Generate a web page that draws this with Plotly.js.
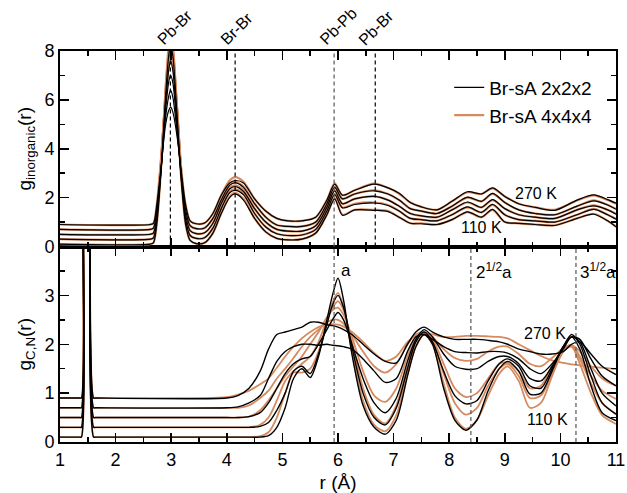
<!DOCTYPE html>
<html><head><meta charset="utf-8">
<script src="https://cdn.plot.ly/plotly-3.0.1.min.js"></script>
<style>html,body{margin:0;padding:0;background:#fff}</style>
</head><body><div id="chart" style="width:627px;height:493px"></div>
<script>
// ---------- DATA ----------
// Top panel: g_inorganic(r), curves offset (110 K lowest ... 270 K highest)
const topR = [1, 2.62, 2.68, 2.74, 2.82, 2.9, 2.96, 2.99, 3.03, 3.1, 3.18, 3.26, 3.34, 3.45, 3.6, 3.75, 3.9, 4.05, 4.15, 4.3, 4.5, 4.7, 4.9, 5.1, 5.35, 5.6, 5.8, 5.94, 6.08, 6.3, 6.65, 6.9, 7.1, 7.3, 7.5, 7.78, 8.05, 8.33, 8.58, 8.78, 9.0, 9.25, 9.55, 9.9, 10.3, 10.6, 10.85, 11];

const topBig_110K = [0.1, 0.1, 0.15, 0.9, 3.3, 6.5, 8.3, 8.6, 8.2, 5.8, 2.8, 0.9, 0.25, 0.12, 0.15, 0.55, 1.35, 2.05, 2.2, 1.95, 1.15, 0.6, 0.33, 0.27, 0.3, 0.55, 1.3, 1.98, 1.3, 1.5, 1.5, 1.45, 1.2, 0.95, 0.95, 0.9, 1.1, 1.41, 1.2, 1.5, 1.0, 0.95, 0.9, 0.87, 1.15, 1.34, 1.05, 0.82];
const topBig_T2 = [0.3, 0.3, 0.35, 1.1, 3.4, 6.4, 8.1, 8.4, 8.0, 5.8, 2.9, 1.1, 0.45, 0.33, 0.36, 0.75, 1.55, 2.25, 2.35, 2.15, 1.35, 0.8, 0.52, 0.45, 0.47, 0.7, 1.45, 2.15, 1.6, 1.75, 1.8, 1.7, 1.45, 1.15, 1.1, 1.05, 1.3, 1.6, 1.4, 1.7, 1.3, 1.1, 1.05, 1.0, 1.3, 1.54, 1.3, 1.13];
const topBig_T3 = [0.5, 0.5, 0.55, 1.3, 3.5, 6.3, 7.9, 8.2, 7.8, 5.8, 3.0, 1.3, 0.65, 0.53, 0.56, 0.95, 1.75, 2.4, 2.5, 2.3, 1.55, 1.0, 0.7, 0.63, 0.63, 0.85, 1.6, 2.3, 1.75, 1.95, 2.05, 1.9, 1.65, 1.35, 1.25, 1.2, 1.5, 1.8, 1.6, 1.9, 1.55, 1.3, 1.2, 1.15, 1.5, 1.68, 1.5, 1.34];
const topBig_T4 = [0.7, 0.7, 0.75, 1.5, 3.6, 6.2, 7.7, 8.0, 7.6, 5.8, 3.1, 1.5, 0.85, 0.73, 0.76, 1.15, 1.9, 2.55, 2.65, 2.45, 1.75, 1.2, 0.88, 0.82, 0.82, 1.0, 1.75, 2.45, 1.95, 2.15, 2.3, 2.15, 1.9, 1.55, 1.45, 1.35, 1.65, 2.0, 1.85, 2.15, 1.8, 1.5, 1.35, 1.3, 1.65, 1.89, 1.7, 1.54];
const topBig_270K = [0.9, 0.9, 0.95, 1.7, 3.7, 6.1, 7.5, 7.8, 7.4, 5.8, 3.2, 1.7, 1.05, 0.93, 0.96, 1.35, 2.1, 2.7, 2.84, 2.65, 1.95, 1.45, 1.15, 1.05, 1.05, 1.2, 1.9, 2.58, 2.1, 2.3, 2.57, 2.4, 2.16, 1.8, 1.62, 1.5, 1.85, 2.22, 2.15, 2.38, 2.05, 1.75, 1.6, 1.5, 1.88, 2.09, 1.9, 1.75];

const topSmall_110K = [0.1, 0.1, 0.15, 0.9, 3.2, 6.2, 7.9, 8.2, 7.8, 5.6, 2.8, 0.9, 0.25, 0.12, 0.15, 0.55, 1.35, 2.0, 2.15, 1.9, 1.15, 0.6, 0.33, 0.27, 0.3, 0.55, 1.3, 1.95, 1.28, 1.5, 1.48, 1.43, 1.2, 0.95, 0.93, 0.9, 1.1, 1.42, 1.2, 1.52, 1.0, 0.95, 0.9, 0.86, 1.15, 1.32, 1.05, 0.8];
const topSmall_T2 = [0.3, 0.3, 0.35, 1.1, 3.2, 5.9, 7.3, 7.6, 7.2, 5.3, 2.8, 1.1, 0.45, 0.33, 0.36, 0.75, 1.55, 2.2, 2.3, 2.12, 1.35, 0.8, 0.52, 0.45, 0.47, 0.7, 1.45, 2.12, 1.58, 1.72, 1.78, 1.68, 1.45, 1.15, 1.1, 1.05, 1.3, 1.62, 1.4, 1.72, 1.3, 1.1, 1.05, 1.0, 1.3, 1.52, 1.3, 1.12];
const topSmall_T3 = [0.5, 0.5, 0.55, 1.3, 3.2, 5.6, 6.8, 7.0, 6.7, 5.0, 2.9, 1.3, 0.65, 0.53, 0.56, 0.95, 1.75, 2.35, 2.45, 2.25, 1.55, 1.0, 0.7, 0.63, 0.63, 0.85, 1.6, 2.28, 1.75, 1.95, 2.05, 1.9, 1.65, 1.35, 1.25, 1.2, 1.5, 1.82, 1.6, 1.92, 1.55, 1.3, 1.2, 1.15, 1.5, 1.66, 1.5, 1.32];
const topSmall_T4 = [0.7, 0.7, 0.75, 1.5, 3.2, 5.3, 6.2, 6.4, 6.1, 4.8, 3.0, 1.5, 0.85, 0.73, 0.76, 1.15, 1.9, 2.5, 2.6, 2.42, 1.75, 1.2, 0.88, 0.82, 0.82, 1.0, 1.75, 2.42, 1.95, 2.15, 2.28, 2.15, 1.9, 1.55, 1.45, 1.35, 1.65, 2.02, 1.85, 2.17, 1.8, 1.5, 1.35, 1.3, 1.65, 1.87, 1.7, 1.52];
const topSmall_270K = [0.9, 0.9, 0.95, 1.7, 3.3, 5.0, 5.6, 5.7, 5.5, 4.6, 3.1, 1.7, 1.05, 0.93, 0.96, 1.35, 2.1, 2.6, 2.7, 2.6, 1.95, 1.45, 1.15, 1.05, 1.05, 1.2, 1.9, 2.55, 2.1, 2.3, 2.55, 2.4, 2.18, 1.8, 1.62, 1.5, 1.85, 2.24, 2.15, 2.4, 2.05, 1.75, 1.6, 1.48, 1.9, 2.11, 1.92, 1.77];

// Bottom panel: g_C,N(r)
const botR = [1, 1.36, 1.385, 1.42, 1.48, 1.54, 1.605, 1.64, 4.0, 4.2, 4.4, 4.6, 4.75, 4.9, 5.05, 5.2, 5.35, 5.5, 5.65, 5.8, 5.9, 6.0, 6.1, 6.25, 6.45, 6.65, 6.85, 7.05, 7.25, 7.4, 7.55, 7.7, 7.9, 8.1, 8.3, 8.5, 8.7, 8.9, 9.05, 9.25, 9.45, 9.65, 9.85, 10.05, 10.2, 10.35, 10.55, 10.75, 11];

const botBig_110K = [0.1, 0.1, 0.1, 5, 12, 6.5, 0.1, 0.1, 0.1, 0.1, 0.1, 0.12, 0.2, 0.5, 1.0, 1.42, 1.42, 1.5, 1.85, 2.45, 2.85, 3.05, 2.75, 1.85, 0.85, 0.35, 0.22, 0.55, 1.4, 1.95, 2.2, 2.0, 1.2, 0.5, 0.27, 0.45, 0.95, 1.4, 1.55, 1.25, 0.7, 0.8, 1.35, 1.85, 1.95, 1.6, 1.0, 0.55, 0.37];
const botBig_T2 = [0.3, 0.3, 0.3, 5, 12, 6.5, 0.3, 0.3, 0.3, 0.3, 0.3, 0.35, 0.5, 0.85, 1.25, 1.45, 1.6, 1.75, 2.05, 2.5, 2.75, 2.88, 2.7, 2.05, 1.1, 0.55, 0.38, 0.75, 1.55, 2.05, 2.25, 2.05, 1.4, 0.8, 0.56, 0.7, 1.15, 1.5, 1.6, 1.35, 0.9, 0.95, 1.4, 1.85, 1.98, 1.7, 1.2, 0.8, 0.57];
const botBig_T3 = [0.5, 0.5, 0.5, 5, 12, 6.5, 0.5, 0.5, 0.5, 0.5, 0.52, 0.65, 0.85, 1.1, 1.35, 1.55, 1.75, 2.0, 2.25, 2.55, 2.7, 2.75, 2.6, 2.15, 1.45, 0.95, 0.82, 1.1, 1.75, 2.1, 2.25, 2.1, 1.6, 1.1, 0.92, 1.0, 1.3, 1.6, 1.62, 1.45, 1.1, 1.15, 1.55, 1.9, 1.98, 1.75, 1.35, 1.05, 0.88];
const botBig_T4 = [0.7, 0.7, 0.7, 5, 12, 6.5, 0.7, 0.7, 0.7, 0.7, 0.75, 0.9, 1.05, 1.3, 1.5, 1.72, 1.95, 2.15, 2.3, 2.45, 2.5, 2.5, 2.42, 2.2, 1.85, 1.55, 1.42, 1.6, 2.0, 2.2, 2.25, 2.15, 1.9, 1.72, 1.66, 1.7, 1.85, 1.95, 1.95, 1.8, 1.6, 1.55, 1.72, 1.92, 1.98, 1.85, 1.55, 1.3, 1.15];
const botBig_270K = [0.9, 0.9, 0.9, 5, 12, 6.5, 0.9, 0.9, 0.92, 0.97, 1.05, 1.18, 1.3, 1.52, 1.75, 1.95, 2.12, 2.25, 2.35, 2.4, 2.41, 2.4, 2.36, 2.25, 2.05, 1.82, 1.66, 1.75, 2.05, 2.18, 2.22, 2.2, 2.15, 2.15, 2.17, 2.17, 2.16, 2.15, 2.12, 2.0, 1.88, 1.76, 1.67, 1.62, 1.59, 1.57, 1.54, 1.52, 1.49];

const botSmall_110K = [0.1, 0.1, 0.1, 5, 12, 6.5, 0.1, 0.1, 0.1, 0.1, 0.1, 0.1, 0.13, 0.3, 0.7, 1.3, 1.5, 1.32, 1.75, 2.5, 3.0, 3.35, 2.9, 1.8, 0.75, 0.3, 0.16, 0.45, 1.35, 1.95, 2.2, 2.0, 1.1, 0.45, 0.24, 0.45, 1.05, 1.5, 1.65, 1.45, 0.98, 1.0, 1.45, 1.95, 2.15, 1.9, 1.15, 0.6, 0.44];
const botSmall_T2 = [0.3, 0.3, 0.3, 5, 12, 6.5, 0.3, 0.3, 0.3, 0.3, 0.3, 0.32, 0.4, 0.65, 1.0, 1.45, 1.55, 1.4, 1.8, 2.4, 2.8, 3.0, 2.75, 1.95, 1.0, 0.5, 0.35, 0.7, 1.5, 2.05, 2.25, 2.05, 1.45, 0.95, 0.78, 0.85, 1.25, 1.6, 1.7, 1.55, 1.15, 1.1, 1.5, 1.95, 2.2, 2.0, 1.35, 0.8, 0.57];
const botSmall_T3 = [0.5, 0.5, 0.5, 5, 12, 6.5, 0.5, 0.5, 0.5, 0.5, 0.52, 0.6, 0.8, 1.1, 1.4, 1.6, 1.7, 1.75, 2.0, 2.3, 2.5, 2.65, 2.5, 2.0, 1.3, 0.8, 0.6, 0.9, 1.65, 2.1, 2.3, 2.15, 1.8, 1.55, 1.49, 1.5, 1.65, 1.75, 1.75, 1.6, 1.3, 1.25, 1.55, 1.95, 2.15, 2.05, 1.5, 1.0, 0.74];
const botSmall_T4 = [0.7, 0.7, 0.7, 5, 12, 6.5, 0.7, 0.7, 0.7, 0.72, 0.8, 0.95, 1.3, 1.65, 1.85, 1.95, 2.0, 2.0, 1.98, 2.0, 1.98, 1.97, 1.95, 1.9, 1.7, 1.45, 1.22, 1.3, 1.85, 2.15, 2.2, 2.1, 1.95, 1.85, 1.83, 1.82, 1.85, 1.85, 1.82, 1.7, 1.5, 1.4, 1.6, 1.9, 2.15, 2.1, 1.7, 1.35, 1.15];
const botSmall_270K = [0.9, 0.9, 0.9, 5, 12, 6.5, 0.9, 0.9, 0.9, 0.95, 1.1, 1.45, 1.9, 2.2, 2.25, 2.3, 2.35, 2.45, 2.45, 2.4, 2.38, 2.35, 2.3, 2.2, 2.0, 1.8, 1.65, 1.62, 2.0, 2.25, 2.35, 2.25, 2.15, 2.1, 2.1, 2.1, 2.08, 2.05, 2.0, 1.9, 1.85, 1.8, 1.8, 1.85, 2.0, 2.05, 1.8, 1.55, 1.38];

// Reference distances (dashed lines) and their labels
const topRefR = [2.985, 4.15, 5.93, 6.67];
const topRefLabels = ['Pb-Br', 'Br-Br', 'Pb-Pb', 'Pb-Br'];
const botRefR = [5.93, 8.39, 10.28];
const botRefLabels = ['a', '2<sup>1/2</sup>a', '3<sup>1/2</sup>a'];
const seriesNames = ['Br-sA 2x2x2', 'Br-sA 4x4x4'];

// ---------- STYLE ----------
const BLACK = '#000000';
const ORANGE = '#d58a60';
const FONT = 'Liberation Sans, Arial, Helvetica, sans-serif';

const topBig = [topBig_110K, topBig_T2, topBig_T3, topBig_T4, topBig_270K];
const topSmall = [topSmall_110K, topSmall_T2, topSmall_T3, topSmall_T4, topSmall_270K];
const botBig = [botBig_110K, botBig_T2, botBig_T3, botBig_T4, botBig_270K];
const botSmall = [botSmall_110K, botSmall_T2, botSmall_T3, botSmall_T4, botSmall_270K];

const traces = [];
function addSet(xs, ys, xa, ya, color, width, name, rank, firstLegend) {
  ys.forEach((y, i) => {
    traces.push({
      x: xs, y: y, xaxis: xa, yaxis: ya, type: 'scatter', mode: 'lines',
      line: { color: color, width: width, shape: 'spline', smoothing: 0.8 },
      name: name, legendgroup: name, legendrank: rank,
      showlegend: firstLegend && i === 0, hoverinfo: 'skip'
    });
  });
}
addSet(topR, topBig, 'x2', 'y2', ORANGE, 2.2, seriesNames[1], 2, true);
addSet(botR, botBig, 'x', 'y', ORANGE, 1.8, seriesNames[1], 2, false);
addSet(topR, topSmall, 'x2', 'y2', BLACK, 1.2, seriesNames[0], 1, true);
addSet(botR, botSmall, 'x', 'y', BLACK, 1.4, seriesNames[0], 1, false);

const tickCommon = {
  ticks: 'inside', ticklen: 9, tickwidth: 1.5, tickcolor: BLACK,
  showline: true, linewidth: 2, linecolor: BLACK, mirror: 'allticks',
  showgrid: false, zeroline: false,
  tickfont: { family: FONT, size: 18, color: BLACK }
};
const minorCommon = { ticks: 'inside', ticklen: 5, tickwidth: 1.5, tickcolor: BLACK, showgrid: false };

const shapes = [];
topRefR.forEach((r, i) => shapes.push({
  type: 'line', xref: 'x2', yref: 'y2 domain', x0: r, x1: r, y0: 0, y1: 1,
  line: { color: i === 2 ? '#555' : BLACK, width: 1.2, dash: '4px,3px' }
}));
botRefR.forEach(r => shapes.push({
  type: 'line', xref: 'x', yref: 'y domain', x0: r, x1: r, y0: 0, y1: 1,
  line: { color: '#555', width: 1.2, dash: '4px,3px' }
}));

const annotations = [];
const topLabelX = [3.06, 4.18, 6.0, 6.69];
topRefLabels.forEach((t, i) => annotations.push({
  text: t, xref: 'x2', yref: 'y2 domain', x: topLabelX[i], y: 1, xanchor: 'center', yanchor: 'bottom',
  yshift: 0, textangle: -45, showarrow: false, font: { family: FONT, size: 16, color: BLACK }
}));
const botLabelX = [6.02, 8.45, 10.32];
botRefLabels.forEach((t, i) => annotations.push({
  text: t, xref: 'x', yref: 'y', x: botLabelX[i], y: 3.5, xanchor: 'left', yanchor: 'middle',
  showarrow: false, font: { family: FONT, size: 17, color: BLACK }
}));
annotations.push(
  { text: '270 K', xref: 'x2', yref: 'y2', x: 9.57, y: 2.18, showarrow: false, font: { family: FONT, size: 16, color: BLACK } },
  { text: '110 K', xref: 'x2', yref: 'y2', x: 8.58, y: 0.76, showarrow: false, font: { family: FONT, size: 16, color: BLACK } },
  { text: '270 K', xref: 'x', yref: 'y', x: 9.72, y: 2.22, showarrow: false, font: { family: FONT, size: 16, color: BLACK } },
  { text: '110 K', xref: 'x', yref: 'y', x: 9.77, y: 0.47, showarrow: false, font: { family: FONT, size: 16, color: BLACK } }
);

const layout = {
  width: 627, height: 493,
  margin: { l: 60, r: 11, t: 51, b: 51 },
  paper_bgcolor: '#fff', plot_bgcolor: '#fff',
  font: { family: FONT, color: BLACK },
  showlegend: true,
  legend: {
    x: 0.70, y: 0.955, xanchor: 'left', yanchor: 'top',
    bgcolor: 'rgba(0,0,0,0)', borderwidth: 0, itemwidth: 30, tracegroupgap: 0,
    font: { family: FONT, size: 19, color: BLACK }
  },
  xaxis: Object.assign({}, tickCommon, {
    domain: [0, 1], anchor: 'y', range: [1, 11], tick0: 1, dtick: 1,
    minor: Object.assign({}, minorCommon, { dtick: 0.5 }),
    title: { text: 'r (Å)', font: { family: FONT, size: 19, color: BLACK }, standoff: 8 }
  }),
  xaxis2: Object.assign({}, tickCommon, {
    domain: [0, 1], anchor: 'y2', matches: 'x', range: [1, 11], tick0: 1, dtick: 1,
    showticklabels: false,
    minor: Object.assign({}, minorCommon, { dtick: 0.5 })
  }),
  yaxis: Object.assign({}, tickCommon, {
    domain: [0, 0.5], anchor: 'x', range: [0, 4],
    tickmode: 'array', tickvals: [0, 1, 2, 3, 4], ticktext: ['0', '1', '2', '3', ''],
    minor: Object.assign({}, minorCommon, { tickmode: 'array', tickvals: [0.5, 1.5, 2.5, 3.5] }),
    title: { text: 'g<sub>C,N</sub>(r)', font: { family: FONT, size: 19, color: BLACK }, standoff: 8 }
  }),
  yaxis2: Object.assign({}, tickCommon, {
    domain: [0.5, 1], anchor: 'x2', range: [0, 8], tick0: 0, dtick: 2,
    minor: Object.assign({}, minorCommon, { dtick: 1 }),
    title: { text: 'g<sub>inorganic</sub>(r)', font: { family: FONT, size: 19, color: BLACK }, standoff: 8 }
  }),
  shapes: shapes,
  annotations: annotations
};

Plotly.newPlot('chart', traces, layout, { staticPlot: true, displayModeBar: false });
</script></body></html>
